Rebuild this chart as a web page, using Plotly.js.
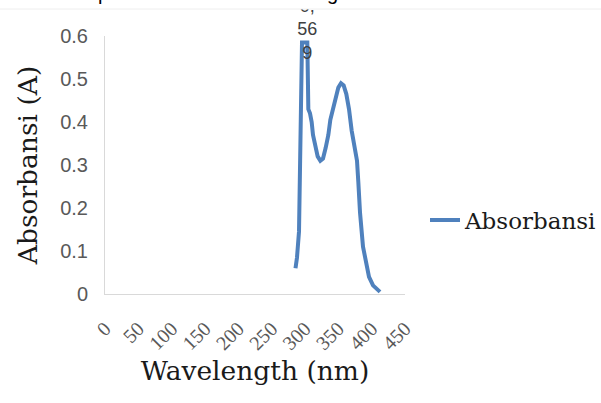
<!DOCTYPE html>
<html>
<head>
<meta charset="utf-8">
<script src="https://cdn.plot.ly/plotly-3.0.1.min.js"></script>
<style>
  html, body { margin: 0; padding: 0; background: #ffffff; }
  #chart { width: 601px; height: 403px; }
</style>
</head>
<body>
<div id="chart"></div>
<script>
// Wavelength (nm) and absorbance
const wavelength = [285.75, 288, 291, 294, 295.5, 303.5, 305, 307.5, 310, 312, 315, 319, 323, 327, 331, 335, 338, 342, 346, 350, 354, 358, 362, 366, 370, 374, 378, 380, 382.5, 387, 391.5, 396, 402, 408, 412.5];
const absorbance = [0.060, 0.085, 0.145, 0.44, 0.585, 0.585, 0.43, 0.42, 0.40, 0.37, 0.345, 0.32, 0.31, 0.315, 0.34, 0.37, 0.405, 0.43, 0.455, 0.48, 0.49, 0.485, 0.465, 0.43, 0.38, 0.34, 0.31, 0.26, 0.19, 0.11, 0.07, 0.04, 0.02, 0.01, 0.005];

// Data label at the sharp peak (text as printed in the reference)
const peakLabel = "0,<br>56<br>9<br>&nbsp;";
const peakIndex = 5;

const xTicks = [0, 50, 100, 150, 200, 250, 300, 350, 400, 450];
const xTickText = ["0", "50", "100", "150", "200", "250", "300", "350", "400", "450"];
const yTicks = [0, 0.1, 0.2, 0.3, 0.4, 0.5, 0.6];
const yTickText = ["0", "0.1", "0.2", "0.3", "0.4", "0.5", "0.6"];

const seriesName = "Absorbansi";
const xTitle = "Wavelength (nm)";
const yTitle = "Absorbansi (A)";

const titleSerif = "DejaVu Serif";
const tickSerif = "Liberation Serif";
const sans = "Liberation Sans";

const traces = [
  {
    x: wavelength,
    y: absorbance,
    type: "scatter",
    mode: "lines",
    name: seriesName,
    line: { color: "#4f81bd", width: 4 },
    cliponaxis: false
  },
  {
    x: [wavelength[peakIndex]],
    y: [absorbance[peakIndex]],
    type: "scatter",
    mode: "text",
    text: [peakLabel],
    textposition: "middle center",
    textfont: { family: sans, size: 18, color: "#404040" },
    showlegend: false,
    hoverinfo: "skip",
    cliponaxis: false
  }
];

const plotTop = 36, plotH = 258;
const borderY = (plotTop + plotH - 9) / plotH;

const layout = {
  width: 601,
  height: 403,
  margin: { l: 105, r: 196, t: plotTop, b: 403 - plotTop - plotH },
  paper_bgcolor: "#ffffff",
  plot_bgcolor: "#ffffff",
  showlegend: true,
  legend: {
    xref: "container", yref: "container",
    x: 425 / 601, xanchor: "left",
    y: 1 - 220 / 403, yanchor: "middle",
    font: { family: titleSerif, size: 23, color: "#1a1a1a" },
    bgcolor: "rgba(0,0,0,0)",
    borderwidth: 0
  },
  xaxis: {
    range: [0, 450],
    tickvals: xTicks,
    ticktext: xTickText,
    tickangle: -45,
    tickfont: { family: tickSerif, size: 20, color: "#595959" },
    ticks: "outside", ticklen: 14, tickcolor: "rgba(0,0,0,0)",
    showline: true, linecolor: "#d9d9d9", linewidth: 1,
    showgrid: false, zeroline: false,
    automargin: false,
    title: { text: xTitle, font: { family: titleSerif, size: 26.5, color: "#1a1a1a" }, standoff: 8 }
  },
  yaxis: {
    range: [0, 0.6],
    tickvals: yTicks,
    ticktext: yTickText,
    tickfont: { family: sans, size: 20, color: "#595959" },
    ticks: "outside", ticklen: 12, tickcolor: "rgba(0,0,0,0)",
    showline: true, linecolor: "#d9d9d9", linewidth: 1,
    showgrid: false, zeroline: false,
    automargin: false,
    title: { text: yTitle, font: { family: titleSerif, size: 26.5, color: "#1a1a1a" }, standoff: 14 }
  },
  shapes: [
    { type: "rect", xref: "paper", yref: "paper", x0: -0.5, x1: 1.8, y0: borderY, y1: 1.3,
      fillcolor: "#ffffff", line: { width: 0 }, layer: "above" },
    { type: "line", xref: "paper", yref: "paper", x0: -0.5, x1: 1.8, y0: borderY, y1: borderY,
      line: { color: "#eeeeee", width: 1 }, layer: "above" }
  ],
  annotations: [
    { xref: "paper", yref: "paper", x: (103 - 105) / 300, y: (plotTop + plotH + 7) / plotH,
      xanchor: "center", yanchor: "middle", showarrow: false, text: "p",
      font: { family: sans, size: 20, color: "#000000" } },
    { xref: "paper", yref: "paper", x: (332 - 105) / 300, y: (plotTop + plotH + 7) / plotH,
      xanchor: "center", yanchor: "middle", showarrow: false, text: "g",
      font: { family: sans, size: 20, color: "#000000" } }
  ]
};

Plotly.newPlot("chart", traces, layout, { displayModeBar: false, staticPlot: true });
</script>
</body>
</html>
